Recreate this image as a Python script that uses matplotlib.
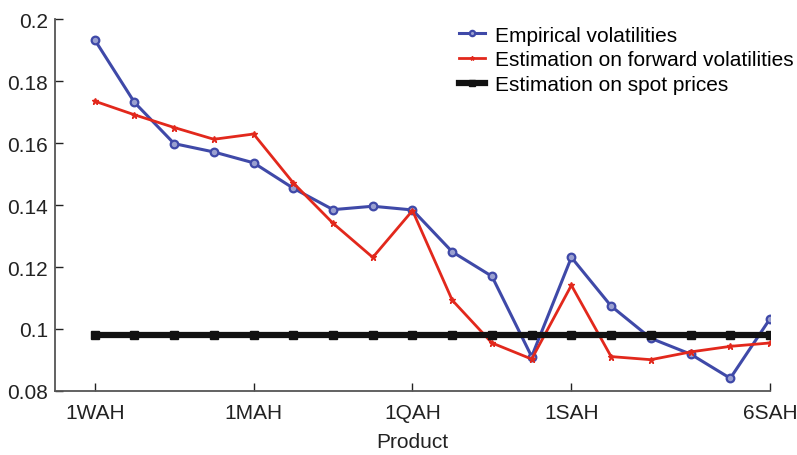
import numpy as np
import matplotlib.pyplot as plt

plt.rcParams['font.family'] = ['Liberation Sans', 'DejaVu Sans']

# products (18 maturities), only some are labelled
tick_pos = [0, 4, 8, 12, 17]
tick_labels = ['1WAH', '1MAH', '1QAH', '1SAH', '6SAH']

empirical = [0.1933, 0.1731, 0.1598, 0.1571, 0.1536, 0.1454, 0.1385, 0.1396, 0.1384,
             0.1249, 0.1170, 0.0911, 0.1231, 0.1074, 0.0970, 0.0919, 0.0841, 0.1033]
forward = [0.1735, 0.1691, 0.1650, 0.1612, 0.1629, 0.1471, 0.1341, 0.1231, 0.1382,
           0.1093, 0.0955, 0.0903, 0.1141, 0.0911, 0.0901, 0.0926, 0.0944, 0.0955]
spot = [0.0980] * 18

x = np.arange(len(empirical))

fig = plt.figure(figsize=(7.97, 4.56), dpi=100)
ax = fig.add_axes([55 / 797, 64 / 456, 715 / 797, 372 / 456])

ax.plot(x, empirical, color='#3f49a8', lw=2.2, marker='o', ms=5.5,
        mfc='#9aa0d0', mec='#3f49a8', mew=1.6, label='Empirical volatilities')
ax.plot(x, forward, color='#e2281c', lw=2.0, marker='*', ms=4.5,
        mec='#e2281c', label='Estimation on forward volatilities')
ax.plot(x, spot, color='#111111', lw=4.5, marker='s', ms=5.5,
        label='Estimation on spot prices')

ax.set_xlim(-1, 17)
ax.set_ylim(0.08, 0.2)
ax.set_xticks(tick_pos)
ax.set_xticklabels(tick_labels)
ax.set_yticks([0.08, 0.1, 0.12, 0.14, 0.16, 0.18, 0.2])
ax.set_yticklabels(['0.08', '0.1', '0.12', '0.14', '0.16', '0.18', '0.2'])
ax.tick_params(direction='in', length=6, width=1, labelsize=15, colors='#222222', pad=9)
ax.tick_params(axis='y', pad=5)
for s in ['top', 'right']:
    ax.spines[s].set_visible(False)
for s in ['left', 'bottom']:
    ax.spines[s].set_color('#555555')
    ax.spines[s].set_linewidth(1.3)
ax.set_xlabel('Product', fontsize=15, color='#222222', labelpad=7)

ax.legend(loc='upper right', bbox_to_anchor=(1.006, 0.96), bbox_transform=fig.transFigure,
          borderaxespad=0, frameon=False, fontsize=15,
          handlelength=1.25, handletextpad=0.45, labelspacing=0.28, markerscale=0.7)

fig.savefig('out.png', dpi=100)
